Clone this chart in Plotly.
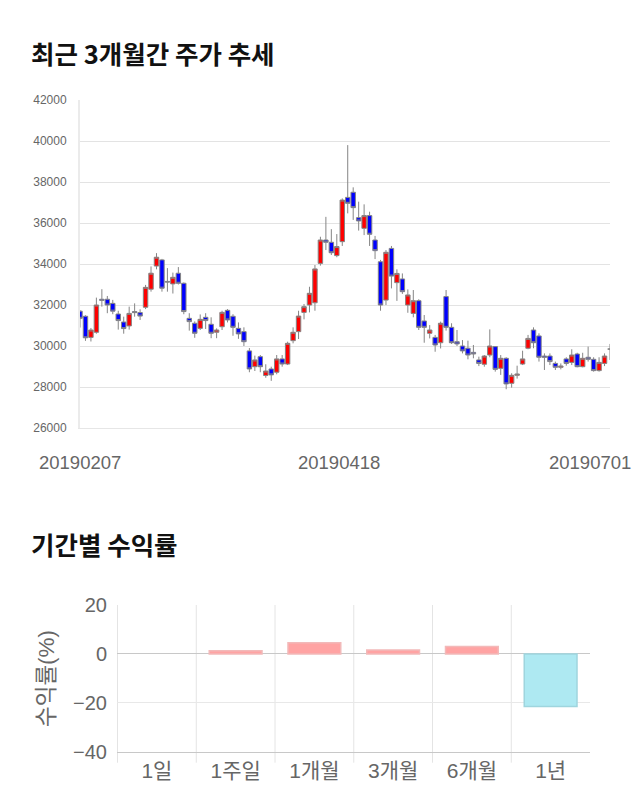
import plotly.graph_objects as go

# ---------------- data: candlestick ----------------
dates = """
20190207 20190208 20190211 20190212 20190213 20190214 20190218 20190219 20190220 20190221
20190222 20190225 20190226 20190227 20190228 20190304 20190305 20190306 20190307 20190308
20190311 20190312 20190313 20190314 20190315 20190318 20190319 20190320 20190321 20190322
20190325 20190326 20190327 20190328 20190329 20190401 20190402 20190403 20190404 20190405
20190408 20190409 20190410 20190411 20190412 20190415 20190416 20190417 20190418 20190419
20190422 20190423 20190424 20190425 20190426 20190429 20190430 20190502 20190503 20190507
20190508 20190509 20190510 20190513 20190514 20190515 20190516 20190517 20190520 20190521
20190522 20190523 20190524 20190527 20190528 20190529 20190530 20190531 20190603 20190604
20190605 20190607 20190610 20190611 20190612 20190613 20190614 20190617 20190618 20190619
20190620 20190621 20190624 20190625 20190626 20190627 20190628 20190701
""".split()

open_ = [31700, 31450, 30420, 30670, 32280, 32280, 32080, 31560, 31170, 30980,
         31680, 31630, 31890, 32770, 33900, 34200, 33150, 33030, 33550, 33060,
         31350, 31110, 30860, 31400, 31060, 30670, 30940, 31740, 31450, 30860,
         30700, 29760, 28990, 29480, 28560, 28880, 28720, 29370, 29120, 30260,
         30700, 31640, 32000, 32110, 34030, 35170, 35060, 34410, 35090, 37250,
         37500, 36260, 35740, 36360, 35170, 34110, 32240, 34760, 33090, 33270,
         32000, 31590, 32210, 31220, 30620, 30420, 30160, 32410, 30910, 30210,
         30000, 29890, 29690, 29320, 29110, 29560, 29970, 28910, 29400, 28180,
         28570, 29120, 29890, 30780, 30490, 29510, 29510, 29150, 28960, 29370,
         29200, 29610, 28990, 29450, 29350, 28800, 29150, 29850]
high = [31750, 31500, 30880, 32360, 32770, 32440, 32250, 31720, 31430, 31920,
        32080, 31790, 32980, 33880, 34530, 34250, 33800, 33580, 33850, 33100,
        31600, 31200, 31540, 31600, 31400, 30860, 31720, 31800, 31550, 31150,
        30910, 29900, 29530, 29560, 29110, 28990, 29560, 29560, 30210, 30910,
        31720, 32050, 32890, 33950, 35330, 36300, 35700, 35460, 37200, 39800,
        37740, 37040, 36910, 36550, 35370, 34200, 34680, 34880, 33740, 33540,
        32760, 32730, 32280, 31510, 31020, 30540, 31190, 32730, 31110, 30780,
        30290, 30260, 30050, 29480, 29560, 30810, 30000, 29560, 29450, 28670,
        29040, 29770, 30540, 30910, 30620, 29640, 29640, 29240, 29150, 29450,
        29840, 29670, 29670, 29970, 29450, 29450, 29640, 30100]
low = [30900, 30250, 30220, 30600, 31920, 31600, 31550, 30800, 30600, 30800,
       31430, 31270, 31800, 32650, 33740, 32650, 32650, 32560, 33000, 31550,
       30750, 30400, 30780, 30830, 30380, 30380, 30780, 31150, 30500, 30350,
       30000, 28720, 28780, 28720, 28450, 28300, 28620, 28990, 29070, 30130,
       30340, 31300, 31640, 31720, 33920, 34680, 34440, 34330, 34880, 36470,
       36150, 35630, 35410, 34880, 34240, 31720, 32000, 32810, 32200, 32540,
       31620, 31400, 30780, 30160, 30370, 29720, 29880, 30750, 30100, 30000,
       29640, 29350, 29400, 29020, 28990, 29450, 28750, 28590, 27890, 27970,
       28410, 29070, 29840, 29890, 29240, 28830, 29070, 28830, 28860, 29040,
       29070, 28960, 28960, 29240, 28750, 28750, 29020, 29320]
close = [31350, 30400, 30780, 32000, 32230, 32000, 31700, 31240, 30850, 31590,
         31630, 31460, 32860, 33550, 34330, 32820, 33120, 33350, 33060, 31680,
         31190, 30620, 31300, 31240, 30620, 30780, 31640, 31270, 30910, 30590,
         30210, 28880, 29320, 28990, 28780, 28590, 29370, 29120, 30130, 30670,
         31460, 31920, 32570, 33760, 35170, 35060, 34550, 34850, 37120, 36960,
         36750, 36100, 36360, 35450, 34650, 32000, 34570, 33410, 33540, 32650,
         32490, 32210, 30910, 30910, 30780, 30050, 31110, 30910, 30160, 30100,
         29760, 29560, 29610, 29150, 29510, 30000, 28860, 29400, 28150, 28570,
         28630, 29370, 30370, 30160, 29450, 29450, 29240, 28960, 29020, 29150,
         29560, 28990, 29400, 29350, 28800, 29200, 29510, 29850]

date_ticks = ["20190207", "20190418", "20190701"]
price_ticks = [26000, 28000, 30000, 32000, 34000, 36000, 38000, 40000, 42000]

# ---------------- data: returns ----------------
periods = ["1일", "1주일", "1개월", "3개월", "6개월", "1년"]
returns = [0.0, 1.3, 4.6, 1.6, 3.0, -21.5]
return_ticks = [-40, -20, 0, 20]

W, H = 640, 810
FONT = "Liberation Sans, Noto Sans CJK KR, sans-serif"
KFONT = "Noto Sans CJK KR, sans-serif"


def fx(p):
    return p / W


def fy(p):
    return 1 - p / H


fig = go.Figure()

fig.add_trace(go.Candlestick(
    x=dates, open=open_, high=high, low=low, close=close,
    xaxis="x", yaxis="y",
    increasing=dict(fillcolor="#ff0000", line=dict(color="#858585", width=1)),
    decreasing=dict(fillcolor="#0000ff", line=dict(color="#858585", width=1)),
    whiskerwidth=0, showlegend=False, hoverinfo="skip",
))

pos_fill, pos_line = "#ffa3a3", "#f2b9b9"
neg_fill, neg_line = "#aee9f2", "#9fd5de"
fig.add_trace(go.Bar(
    x=periods, y=returns, xaxis="x2", yaxis="y2", width=0.67,
    marker=dict(
        color=[pos_fill if v >= 0 else neg_fill for v in returns],
        line=dict(color=[pos_line if v >= 0 else neg_line for v in returns],
                  width=[1.5 if v != 0 else 0 for v in returns]),
    ),
    showlegend=False, hoverinfo="skip",
))

bar_top, bar_bot = 605, 751.7
shapes = []
for i in range(len(periods)):
    shapes.append(dict(
        type="line", xref="x2", yref="paper",
        x0=i - 0.5, x1=i - 0.5, y0=fy(bar_bot + 11), y1=fy(bar_top),
        line=dict(color="#e4e4e4", width=1), layer="below",
    ))

annotations = [
    dict(text="<b>최근 3개월간 주가 추세</b>", xref="paper", yref="paper",
         x=fx(29), y=fy(52), xanchor="left", yanchor="middle", showarrow=False,
         font=dict(family=KFONT, size=25.5, color="#111111")),
    dict(text="<b>기간별 수익률</b>", xref="paper", yref="paper",
         x=fx(29), y=fy(543), xanchor="left", yanchor="middle", showarrow=False,
         font=dict(family=KFONT, size=25.5, color="#111111")),
    dict(text="수익률(%)", xref="paper", yref="paper", textangle=-90,
         x=fx(46), y=fy(679), xanchor="center", yanchor="middle", showarrow=False,
         font=dict(family=FONT, size=22.5, color="#666666")),
]
# date labels under the candlestick chart (last one kept inside the canvas)
shifts = [0, -3, -20]
for d, s in zip(date_ticks, shifts):
    annotations.append(dict(
        text=d, xref="x", yref="paper", x=dates.index(d), y=fy(462), xshift=s,
        xanchor="center", yanchor="middle", showarrow=False,
        font=dict(family=FONT, size=18.5, color="#666666"),
    ))

fig.update_layout(
    width=W, height=H,
    margin=dict(l=0, r=0, t=0, b=0, autoexpand=False),
    paper_bgcolor="white", plot_bgcolor="white",
    font=dict(family=FONT, color="#666666"),
    boxgap=0.1, boxgroupgap=0.1,
    shapes=shapes,
    annotations=annotations,
    xaxis=dict(
        domain=[fx(80), fx(610)], anchor="y", type="category", automargin=False,
        range=[0, len(dates) - 1], showticklabels=False,
        showgrid=False, showline=True, linecolor="#e6e6e6", linewidth=1,
        ticks="", rangeslider=dict(visible=False), fixedrange=True,
    ),
    yaxis=dict(
        domain=[fy(428), fy(100)], anchor="x", automargin=False,
        range=[26000, 42000], tickvals=price_ticks, tickformat="d",
        gridcolor="#e3e3e3", zeroline=False,
        showline=True, linecolor="#ebebeb", linewidth=2,
        ticks="", tickfont=dict(size=12, color="#666666"),
        ticklabelstandoff=9, fixedrange=True,
    ),
    xaxis2=dict(
        domain=[fx(117), fx(590)], anchor="y2", type="category", automargin=False,
        showgrid=False, showline=True, linecolor="#c8c8c8", linewidth=1,
        ticks="", tickfont=dict(size=21, color="#666666"),
        ticklabelstandoff=0, fixedrange=True,
    ),
    yaxis2=dict(
        domain=[fy(bar_bot), fy(bar_top)], anchor="x2", automargin=False,
        range=[-40, 20], tickvals=return_ticks,
        gridcolor="#e8e8e8", zeroline=True, zerolinecolor="#c8c8c8", zerolinewidth=1,
        showline=False, ticks="", tickfont=dict(size=20, color="#666666"),
        ticklabelstandoff=9, fixedrange=True,
    ),
)

fig.write_html("out.html")
